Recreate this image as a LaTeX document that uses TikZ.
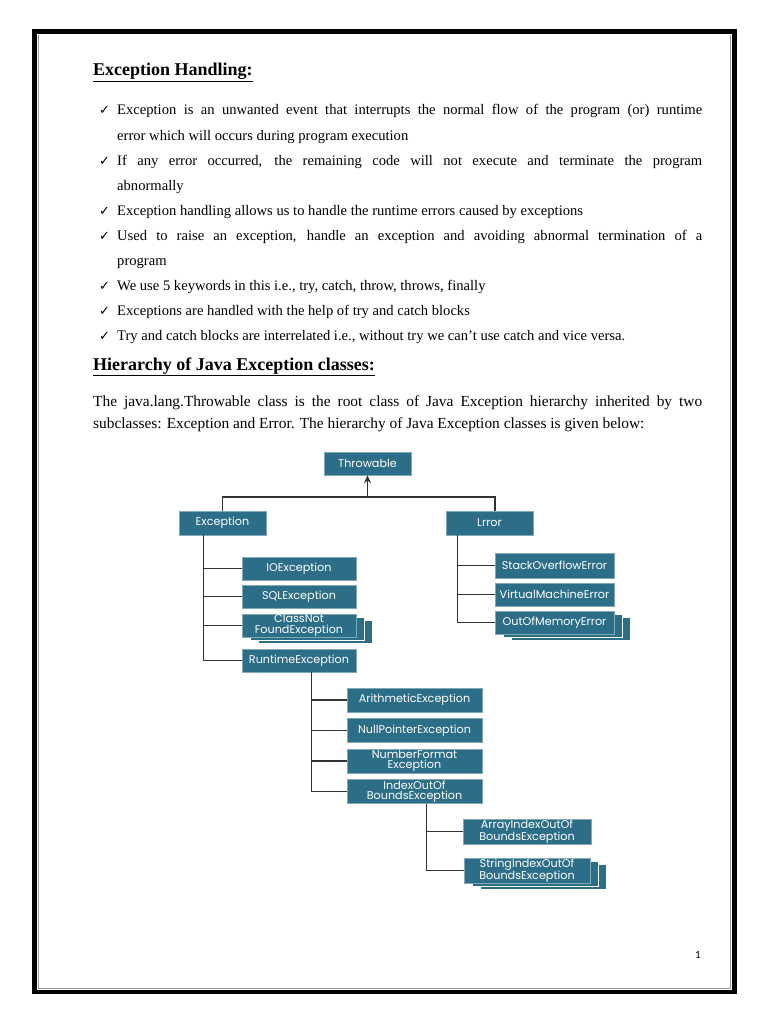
\documentclass[tikz,border=0pt]{standalone}
\usepackage{fontspec}
\setmainfont{Liberation Serif}
\newfontfamily\diagfont{Poppins}
\newfontfamily\symfont{DejaVu Sans}
\newfontfamily\numfont{Carlito}
\usetikzlibrary{arrows.meta,shadows}

\definecolor{boxteal}{RGB}{44,110,135}

\tikzset{
  cls/.style={fill=boxteal, draw=boxteal!60!white, line width=0.5pt, text=white,
    font=\diagfont\fontsize{11.2}{10.5}\selectfont, align=center, inner sep=0pt,
    minimum height=24pt},
  stacked/.style={double copy shadow={shadow xshift=8pt, shadow yshift=-3pt,
    fill=boxteal, draw=white, line width=0.6pt}},
  link/.style={draw=black!80, line width=1.1pt},
  item/.style={anchor=base west, inner sep=0pt, text width=585pt, align=justify,
    font=\fontsize{14.6}{25.1}\selectfont},
  para/.style={anchor=base west, inner sep=0pt, text width=609pt, align=justify,
    font=\fontsize{15.4}{22}\selectfont},
  tick/.style={anchor=base west, inner sep=0pt, font=\symfont\fontsize{13}{14}\selectfont},
  heading/.style={anchor=base west, inner sep=0pt, font=\bfseries\fontsize{18}{21}\selectfont},
}

\begin{document}
\begin{tikzpicture}[x=1pt, y=-1pt]

\useasboundingbox (0,0) rectangle (768,1024);

% page border
\draw[line width=4.5pt] (34.5,31.5) rectangle (734.5,992);
\draw[black!40, line width=0.8pt] (38.5,35) -- (38.5,988.5) -- (730.5,988.5) -- (730.5,35);

% text
\def\lx{117}
\def\ls{25.1}

\node[heading] (h1) at (93,76) {\underline{Exception Handling:}};

\node[item] (b1) at (\lx,115) {Exception is an unwanted event that interrupts the normal flow of the program (or) runtime\linebreak error which will occurs during program execution};
\node[item] (b2) at (\lx,115+2*\ls) {If any error occurred, the remaining code will not execute and terminate the program\linebreak abnormally};
\node[item] (b3) at (\lx,115+4*\ls) {Exception handling allows us to handle the runtime errors caused by exceptions};
\node[item] (b4) at (\lx,115+5*\ls) {Used to raise an exception, handle an exception and avoiding abnormal termination of a\linebreak program};
\node[item] (b5) at (\lx,115+7*\ls) {We use 5 keywords in this i.e., try, catch, throw, throws, finally};
\node[item] (b6) at (\lx,115+8*\ls) {Exceptions are handled with the help of try and catch blocks};
\node[item] (b7) at (\lx,115+9*\ls) {Try and catch blocks are interrelated i.e., without try we can’t use catch and vice versa.};

% ticks
\foreach \n in {b1,b2,b3,b4,b5,b6,b7}
  \node[tick] at ([xshift=-18pt]\n.base west) {✓};

\node[heading] (h2) at (93,370) {\underline{Hierarchy of Java Exception classes:}};

\node[para] (intro) at (93,406) {The java.lang.Throwable class is the root class of Java Exception hierarchy inherited by two\linebreak subclasses: Exception and Error. The hierarchy of Java Exception classes is given below:};

% class boxes
\node[cls, minimum width=87pt, minimum height=23pt] (throw) at (367.5,463.5) {Throwable};
\node[cls, minimum width=87pt] (exc) at (222.5,523) {Exception};
\node[cls, minimum width=87pt] (err) at (489.5,523) {Lrror};

\node[cls, minimum width=114pt, minimum height=23pt] (io)  at (299,568.5) {IOException};
\node[cls, minimum width=114pt, minimum height=23pt] (sql) at (299,596.5) {SQLException};
\node[cls, stacked, minimum width=114pt, minimum height=23pt] (cnf) at (299,625.5) {ClassNot\\FoundException};
\node[cls, minimum width=114pt, minimum height=23pt] (rt)  at (299,660.5) {RuntimeException};

\node[cls, minimum width=119pt, minimum height=25pt] (so)  at (554.5,565.5) {StackOverflowError};
\node[cls, minimum width=119pt, minimum height=23pt] (vm)  at (554.5,594.5) {VirtualMachineError};
\node[cls, stacked, minimum width=119pt, minimum height=23pt] (oom) at (554.5,622.5) {OutOfMemoryError};

\node[cls, minimum width=135pt] (ar) at (414.5,700) {ArithmeticException};
\node[cls, minimum width=135pt] (np) at (414.5,730.5) {NullPointerException};
\node[cls, minimum width=135pt] (nf) at (414.5,761) {NumberFormat\\Exception};
\node[cls, minimum width=135pt] (ix) at (414.5,791.5) {IndexOutOf\\BoundsException};

\node[cls, minimum width=128pt, minimum height=25pt] (ai) at (527,831.5) {ArrayIndexOutOf\\BoundsException};
\node[cls, stacked, minimum width=126pt, minimum height=25pt] (si) at (527,870.5) {StringIndexOutOf\\BoundsException};

% connectors
\coordinate (top) at (367.5,497);
\draw[link] (exc.north) |- (top) -| ([xshift=5.5pt]err.north);
\draw[link, -{Stealth[length=8pt,width=7pt]}] (top) -- (throw.south);

\foreach \n in {io,sql,cnf,rt}
  \draw[link] ([xshift=25pt]exc.south west) |- (\n.west);
\foreach \n in {so,vm,oom}
  \draw[link] ([xshift=12pt]err.south west) |- (\n.west);
\foreach \n in {ar,np,nf,ix}
  \draw[link] ([xshift=70pt]rt.south west) |- (\n.west);
\foreach \n in {ai,si}
  \draw[link] ([xshift=80pt]ix.south west) |- (\n.west);

% page number
\node[font=\numfont\fontsize{11}{13}\selectfont] (pg) at (698,955) {1};

\end{tikzpicture}
\end{document}
